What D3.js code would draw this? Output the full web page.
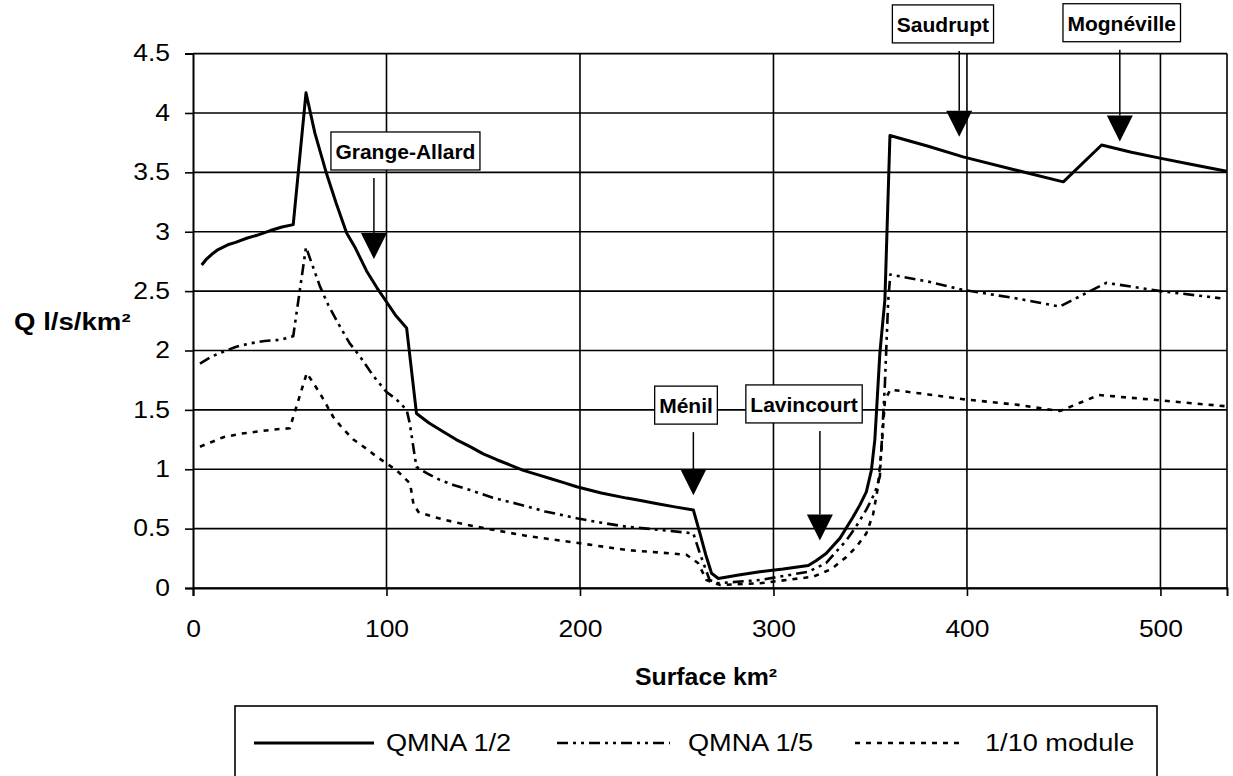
<!DOCTYPE html>
<html><head><meta charset="utf-8">
<script src="https://cdn.jsdelivr.net/npm/d3@7"></script>
<style>
html,body{margin:0;padding:0;background:#fff;}
svg{display:block;font-family:"Liberation Sans",Arial,sans-serif;}
</style></head>
<body>
<svg id="c" width="1233" height="776"></svg>
<script>
// ---- data ----
const xTicks = [0, 100, 200, 300, 400, 500];
const yTicks = [0, 0.5, 1, 1.5, 2, 2.5, 3, 3.5, 4, 4.5];
const yTickLabels = ["0", "0.5", "1", "1.5", "2", "2.5", "3", "3.5", "4", "4.5"];

const q2Surface = [4.5, 7, 9.7, 13, 18, 22, 27.7, 33, 40, 46, 51.8, 58.4, 63, 69, 74, 79.4, 84, 89.7, 95, 100.4, 105, 110.4, 115.5, 122, 130, 136, 143.2, 150, 157, 164, 170.7, 178, 185, 192, 198.3, 211, 224.1, 232, 240, 249, 258.6, 262, 265, 268, 271.5, 282, 293, 305, 318, 322, 327.2, 334.4, 341.2, 344.7, 348, 350.6, 352.4, 353.3, 355, 357.6, 360.2, 380, 398, 425, 449.8, 469.6, 485, 499.7, 515, 534.2];
const q2Values  = [2.72, 2.77, 2.81, 2.85, 2.89, 2.91, 2.945, 2.97, 3.01, 3.04, 3.06, 4.17, 3.83, 3.49, 3.24, 2.99, 2.86, 2.67, 2.53, 2.40, 2.29, 2.19, 1.47, 1.39, 1.31, 1.25, 1.19, 1.13, 1.08, 1.035, 0.99, 0.955, 0.92, 0.885, 0.853, 0.80, 0.757, 0.735, 0.71, 0.683, 0.657, 0.46, 0.28, 0.124, 0.08, 0.11, 0.137, 0.16, 0.19, 0.23, 0.29, 0.42, 0.60, 0.70, 0.81, 0.99, 1.25, 1.5, 1.98, 2.43, 3.81, 3.72, 3.63, 3.52, 3.42, 3.73, 3.67, 3.62, 3.57, 3.51];

const q5Surface = [3.6, 9.7, 15.7, 22, 29.5, 37, 45, 51.8, 58.4, 65.6, 70, 76, 81, 86.3, 93, 100, 105, 110.4, 112, 114.6, 115.5, 121, 127.6, 135, 143.2, 155, 167.3, 182, 198.3, 211, 224, 241, 258.6, 262, 267, 271.5, 293, 318, 327.2, 337.6, 342.8, 348, 352.4, 355, 357.6, 359.3, 360.4, 380, 398, 425, 448, 472, 500, 531];
const q5Values  = [1.89, 1.95, 1.99, 2.03, 2.06, 2.08, 2.09, 2.12, 2.87, 2.54, 2.38, 2.20, 2.06, 1.95, 1.79, 1.65, 1.59, 1.50, 1.39, 1.11, 1.02, 0.965, 0.91, 0.865, 0.825, 0.76, 0.71, 0.645, 0.587, 0.55, 0.516, 0.49, 0.46, 0.29, 0.067, 0.04, 0.067, 0.137, 0.21, 0.40, 0.52, 0.66, 0.80, 0.94, 1.72, 2.42, 2.64, 2.58, 2.51, 2.44, 2.37, 2.57, 2.50, 2.44];

const modSurface = [3.6, 9.7, 15.7, 25, 34.6, 42, 50, 58.8, 65.6, 72.5, 77, 82.9, 89, 95, 105.3, 112.2, 113.9, 116.5, 123, 131, 142, 155, 172, 189.7, 207, 224, 240, 255, 261, 265.4, 272.5, 293, 320.5, 330, 337.6, 343, 348, 351.5, 354, 356, 357.6, 360.4, 380, 398, 425, 448, 468.2, 500, 534];
const modValues  = [1.19, 1.23, 1.27, 1.30, 1.32, 1.335, 1.345, 1.81, 1.64, 1.44, 1.35, 1.25, 1.18, 1.105, 0.99, 0.88, 0.71, 0.64, 0.605, 0.57, 0.53, 0.49, 0.44, 0.40, 0.36, 0.32, 0.30, 0.28, 0.21, 0.067, 0.025, 0.04, 0.095, 0.16, 0.26, 0.35, 0.46, 0.62, 0.85, 1.2, 1.58, 1.67, 1.63, 1.59, 1.545, 1.49, 1.625, 1.58, 1.53];

const seriesNames = ["QMNA 1/2", "QMNA 1/5", "1/10 module"];

// annotations: label, arrow x (km²), arrow tip (Q), box centre x (km²), box top (Q)
const annLabels = ["Grange-Allard", "Ménil", "Lavincourt", "Saudrupt", "Mognéville"];
const annX      = [93.5, 258.6, 324, 396, 479];
const annTip    = [2.77, 0.78, 0.40, 3.80, 3.76];
const annBoxX   = [109.8, 254.8, 315.8, 387.6, 480];
const annBoxTop = [3.84, 1.70, 1.71, 4.91, 4.92];

// ---- chart ----
const svg = d3.select("#c");
const x = d3.scaleLinear().domain([0, 534.4]).range([193, 1227]);
const y = d3.scaleLinear().domain([0, 4.5]).range([588, 53.6]);
const STRETCH = 1.15;
function widen(sel, k) {
  sel.each(function () {
    const n = this;
    const L = n.getComputedTextLength();
    d3.select(n).attr("textLength", L * k).attr("lengthAdjust", "spacingAndGlyphs");
  });
}

// grid
const g = svg.append("g");
g.selectAll(".hg").data(yTicks).join("line")
  .attr("x1", x(0)).attr("x2", x(534.4))
  .attr("y1", d => y(d)).attr("y2", d => y(d))
  .attr("stroke", "#000").attr("stroke-width", 1.6);
g.selectAll(".vg").data(xTicks.slice(1).concat([534.4])).join("line")
  .attr("x1", d => x(d)).attr("x2", d => x(d))
  .attr("y1", y(0)).attr("y2", y(4.5))
  .attr("stroke", "#000").attr("stroke-width", 1.6);

// axes
const yAxis = d3.axisLeft(y).tickValues(yTicks).tickFormat((d, i) => yTickLabels[i]).tickSize(8).tickPadding(15);
const xAxis = d3.axisBottom(x).tickValues(xTicks).tickSize(8).tickPadding(25);
const ya = svg.append("g").attr("transform", `translate(${x(0)},0)`).call(yAxis);
const xa = svg.append("g").attr("transform", `translate(0,${y(0)})`).call(xAxis);
[ya, xa].forEach(a => {
  a.select(".domain").attr("stroke", "#000").attr("stroke-width", 2);
  a.selectAll(".tick line").attr("stroke", "#000").attr("stroke-width", 1.6);
  a.selectAll(".tick text").attr("fill", "#000").attr("font-size", 23)
    .attr("font-family", "'Liberation Sans', Arial, sans-serif");
  widen(a.selectAll(".tick text"), STRETCH);
});

// axis titles
const yt = svg.append("text").attr("x", 14).attr("y", 330).text("Q l/s/km²")
  .attr("font-size", 23).attr("font-weight", "bold").attr("fill", "#000");
widen(yt, 1.2);
const xt = svg.append("text").attr("x", 706).attr("y", 685).attr("text-anchor", "middle")
  .text("Surface km²").attr("font-size", 23).attr("font-weight", "bold").attr("fill", "#000");
widen(xt, 1.08);

// series
const line = d3.line().x(d => x(d[0])).y(d => y(d[1]));
const styles = [
  {w: 3, dash: null},
  {w: 2.6, dash: "11,5,3,5,3,5"},
  {w: 2.6, dash: "5,6"}
];
const series = [
  d3.zip(q2Surface, q2Values),
  d3.zip(q5Surface, q5Values),
  d3.zip(modSurface, modValues)
];
series.forEach((s, i) => {
  svg.append("path").datum(s).attr("d", line)
    .attr("fill", "none").attr("stroke", "#000")
    .attr("stroke-width", styles[i].w)
    .attr("stroke-dasharray", styles[i].dash)
    .attr("stroke-linejoin", "round");
});

// annotations
annLabels.forEach((lab, i) => {
  const ag = svg.append("g");
  const t = ag.append("text").text(lab).attr("font-size", 21).attr("font-weight", "bold")
    .attr("text-anchor", "middle").attr("fill", "#000")
    .attr("x", x(annBoxX[i])).attr("y", y(annBoxTop[i]) + 27);
  const w = t.node().getComputedTextLength() + 9;
  const top = y(annBoxTop[i]);
  ag.insert("rect", "text").attr("x", x(annBoxX[i]) - w / 2).attr("y", top)
    .attr("width", w).attr("height", 38).attr("fill", "#fff").attr("stroke", "#000").attr("stroke-width", 1.3);
  const tipY = y(annTip[i]);
  const baseY = tipY - 26;
  const ax = x(annX[i]);
  ag.append("line").attr("x1", ax).attr("x2", ax).attr("y1", top + 38 + 8).attr("y2", baseY)
    .attr("stroke", "#000").attr("stroke-width", 1.5);
  ag.append("path").attr("d", `M${ax - 13},${baseY}L${ax + 13},${baseY}L${ax},${tipY}Z`).attr("fill", "#000");
});

// legend
const lg = svg.append("g");
lg.append("rect").attr("x", 235).attr("y", 706).attr("width", 922).attr("height", 90)
  .attr("fill", "#fff").attr("stroke", "#000").attr("stroke-width", 1.6);
const legLineX = [[254, 374], [557, 670], [855, 965]];
const legTextX = [386, 688, 985];
seriesNames.forEach((n, i) => {
  lg.append("line").attr("x1", legLineX[i][0]).attr("x2", legLineX[i][1]).attr("y1", 743).attr("y2", 743)
    .attr("stroke", "#000").attr("stroke-width", styles[i].w).attr("stroke-dasharray", styles[i].dash);
  const lt = lg.append("text").attr("x", legTextX[i]).attr("y", 751).text(n).attr("font-size", 23).attr("fill", "#000");
  widen(lt, 1.18);
});
</script>
</body></html>
